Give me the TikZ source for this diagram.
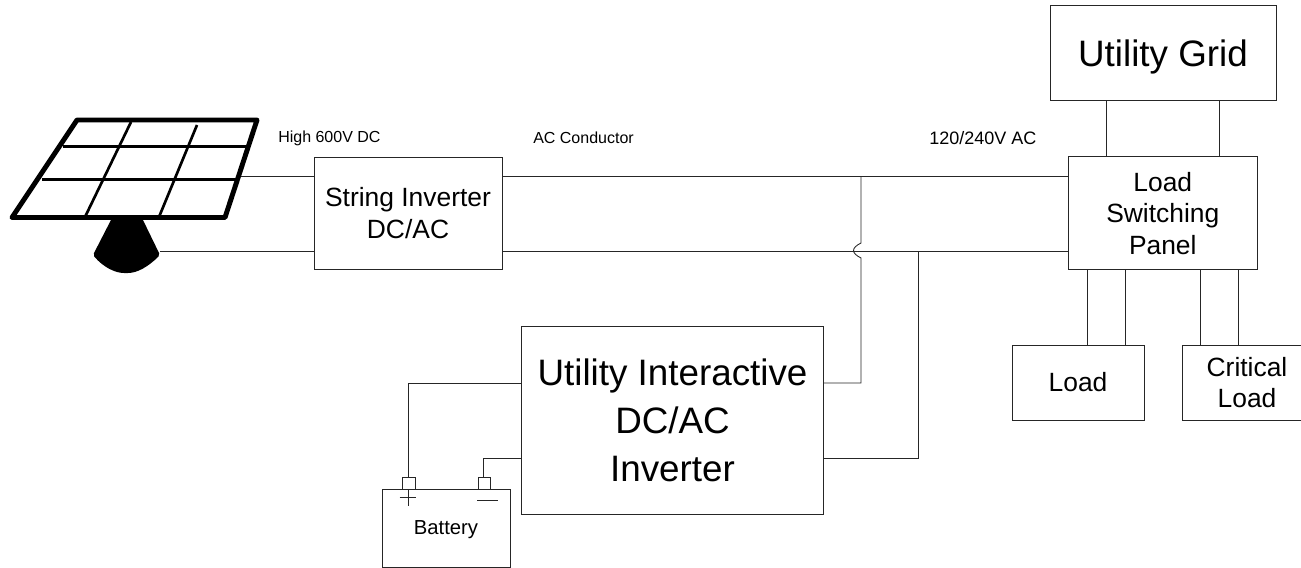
\documentclass[tikz,border=0pt]{standalone}
\usepackage{fontspec}
\setmainfont{Liberation Sans}
\tikzset{
  x=0.75pt,y=-0.75pt,
  wire/.style={draw=black!85,line width=0.65pt},
  box/.style={draw=black!85,line width=0.75pt,fill=white,inner sep=0pt,align=center,text=black},
  bigtext/.style={font=\fontsize{27.6pt}{36pt}\selectfont},
  midtext/.style={font=\fontsize{19.8pt}{23.6pt}\selectfont},
  battext/.style={font=\fontsize{15.2pt}{18pt}\selectfont},
  smalltext/.style={font=\fontsize{12pt}{14pt}\selectfont,inner sep=0pt,text=black},
  acsmall/.style={font=\fontsize{13.5pt}{16pt}\selectfont,inner sep=0pt,text=black},
  frame/.style={line width=3.7pt,line join=round,draw=black},
  grid/.style={line width=2pt,draw=black},
}
\begin{document}
\begin{tikzpicture}
\useasboundingbox (0,0) rectangle (1301,567);
\clip (0,0) rectangle (1301,567);
% boxes
\node[box,minimum width=169.5pt,minimum height=70.5pt] (grid) at (1163,53) {};
\node[bigtext,inner sep=0pt,text=black] (gridt) at (1163,57) {Utility Grid};
\node[box,midtext,minimum width=141.4pt,minimum height=84.4pt] (panel) at (1162.75,213.25) {Load\\Switching\\Panel};
\node[box,midtext,minimum width=99pt,minimum height=56.25pt] (load) at (1078,382.5) {Load};
\node[box,midtext,minimum width=97.5pt,minimum height=56.25pt] (crit) at (1247,382.5) {Critical\\Load};
\node[box,midtext,minimum width=141pt,minimum height=84pt] (si) at (408,213) {String Inverter\\DC/AC};
\node[box,bigtext,minimum width=226pt,minimum height=141pt] (ui) at (672.5,420) {Utility Interactive\\DC/AC\\Inverter};
\node[box,minimum width=96pt,minimum height=58.5pt] (bat) at (446,528) {};
\node[battext,inner sep=0pt,text=black] (batt) at (446,530) {Battery};
\node[box,minimum width=9.5pt,minimum height=9pt] (tp) at (409,483) {};
\node[box,minimum width=9.5pt,minimum height=9pt] (tn) at (484.5,483) {};
% labels
\node[smalltext,anchor=west] (l1) at (278,138) {High 600V DC};
\node[smalltext,anchor=west] (l2) at (533,138) {AC Conductor};
\node[acsmall,anchor=west] (l3) at (929,138) {120/240V AC};
% battery polarity
\coordinate (pl) at (399.5,497); \coordinate (pr) at (416,497);
\coordinate (pt) at (408,489); \coordinate (pb) at (408,506);
\coordinate (ml) at (477,500); \coordinate (mr) at (498,500);
\draw[wire] (pl) -- (pr) (pt) -- (pb) (ml) -- (mr);
% solar panel
\coordinate (s1) at (77,120); \coordinate (s2) at (257,120);
\coordinate (s3) at (225,217.5); \coordinate (s4) at (12,217.5);
\coordinate (sr) at (241,176); \coordinate (br) at (160,251);
\fill[black,rounded corners=1.5pt] (112,218) -- (142,218) -- (160,255)
  .. controls (148,267) and (137,273) .. (126,273)
  .. controls (115,273) and (103,267) .. (93,255) -- cycle;
\draw[frame] (s1) -- (s2) -- (s3) -- (s4) -- cycle;
\draw[grid] (63,146.3) -- (247,146.3);
\draw[grid] (42,179.5) -- (236,179.5);
\draw[grid] (131,122) -- (85,217);
\draw[grid] (197,125) -- (159,217);
% wires
\coordinate (siL1) at (si.west |- sr); \coordinate (siL2) at (si.west |- br);
\draw[wire] (sr) -- (siL1);
\draw[wire] (br) -- (siL2);
\coordinate (siR1) at (si.east |- sr); \coordinate (siR2) at (si.east |- br);
\coordinate (pnL1) at (panel.west |- sr); \coordinate (pnL2) at (panel.west |- br);
\draw[wire] (siR1) -- (pnL1);
\draw[wire] (siR2) -- (pnL2);
% interactive inverter AC wires
\coordinate (j1) at (861,176);
\coordinate (h1) at (861,243); \coordinate (h2) at (861,258);
\coordinate (c1) at (861,383); \coordinate (uiR1) at (ui.east |- c1);
\draw[wire] (j1) -- (h1) .. controls (856,245.5) and (853.5,248) .. (853.5,250.5)
  .. controls (853.5,253) and (856,255.5) .. (h2) -- (c1) -- (uiR1);
\coordinate (j2) at (918,251); \coordinate (c2) at (918,458); \coordinate (uiR2) at (ui.east |- c2);
\draw[wire] (j2) -- (c2) -- (uiR2);
% battery wires
\coordinate (uiL1) at (ui.west |- c1); \coordinate (uiL2) at (ui.west |- c2);
\coordinate (b1) at (408,383); \coordinate (b2) at (483,458);
\draw[wire] (uiL1) -- (b1) -- (b1 |- tp.north);
\draw[wire] (uiL2) -- (b2) -- (b2 |- tn.north);
% right side wires
\foreach \n/\a/\b/\x in {g1/grid/panel/1106.7,g2/grid/panel/1219.3,l1a/panel/load/1087,l2a/panel/load/1125,c1a/panel/crit/1200.7,c2a/panel/crit/1238}{
  \coordinate (\n) at (\x,0);
  \draw[wire] (\n |- \a.south) -- (\n |- \b.north);
}
\end{tikzpicture}
\end{document}
